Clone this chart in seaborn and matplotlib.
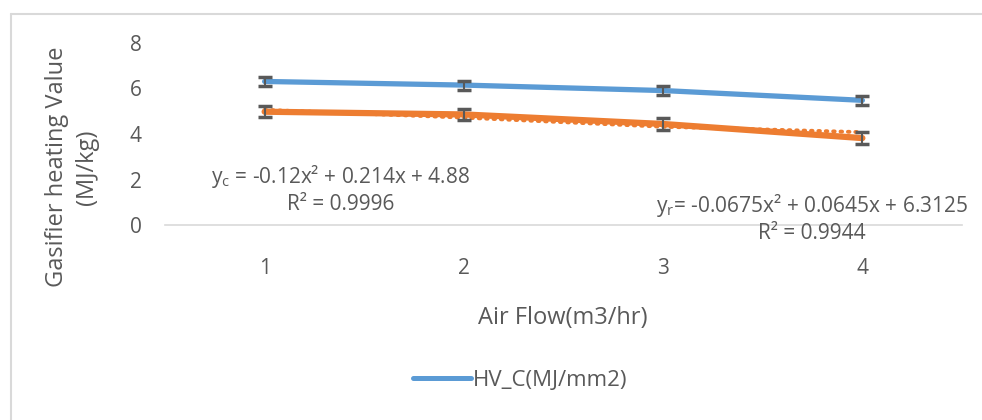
import pandas as pd
import seaborn as sns
import matplotlib.pyplot as plt
from matplotlib.lines import Line2D

# datos
air_flow = [1, 2, 3, 4]
hv_c = [6.31, 6.15, 5.91, 5.48]
hv_r = [4.98, 4.86, 4.44, 3.82]
trend_r = [5.06, 4.72, 4.32, 4.08]
err_c = [0.2, 0.2, 0.2, 0.2]
err_r = [0.25, 0.25, 0.25, 0.25]

eq_c = 'y$\\mathregular{_c}$ = -0.12x² + 0.214x + 4.88\nR² = 0.9996'
eq_r = 'y$\\mathregular{_r}$= -0.0675x² + 0.0645x + 6.3125\nR² = 0.9944'

df = pd.DataFrame({'AirFlow': air_flow, 'HV_C': hv_c, 'HV_R': hv_r, 'Trend': trend_r})

sns.set_style("white")
plt.rcParams['font.family'] = ['Open Sans', 'DejaVu Sans']
plt.rcParams['mathtext.fontset'] = 'custom'
plt.rcParams['mathtext.rm'] = 'Open Sans'

gray = '#595959'
blue = '#5B9BD5'
orange = '#ED7D31'

fig = plt.figure(figsize=(9.82, 4.2), dpi=100)
ax = fig.add_axes([165 / 982, 1 - 225 / 420, 797 / 982, 182 / 420])

# linea de tendencia punteada (polinomica)
sns.lineplot(data=df, x='AirFlow', y='Trend', color=orange, lw=2.8, ls=(0, (0.4, 1.5)),
             dash_capstyle='round', ax=ax)
sns.lineplot(data=df, x='AirFlow', y='HV_R', color=orange, lw=4.5, ax=ax,
             solid_capstyle='round')
sns.lineplot(data=df, x='AirFlow', y='HV_C', color=blue, lw=3.8, ax=ax,
             solid_capstyle='round')
ax.errorbar(air_flow, hv_c, yerr=err_c, fmt='none', ecolor=gray, elinewidth=1.5,
            capsize=5, capthick=2.5, zorder=5)
ax.errorbar(air_flow, hv_r, yerr=err_r, fmt='none', ecolor=gray, elinewidth=1.5,
            capsize=5, capthick=2.5, zorder=5)

ax.set_xlim(0.5, 4.5)
ax.set_ylim(0, 8)
ax.set_xticks(air_flow)
ax.set_yticks([0, 2, 4, 6, 8])
ax.tick_params(axis='both', length=0, labelsize=15, labelcolor=gray)
ax.tick_params(axis='x', pad=24)
ax.tick_params(axis='y', pad=17)
for s in ['top', 'right', 'left']:
    ax.spines[s].set_visible(False)
ax.spines['bottom'].set_color('#D9D9D9')
ax.spines['bottom'].set_linewidth(1.2)

ax.set_xlabel('Air Flow(m3/hr)', fontsize=17, color=gray)
ax.xaxis.set_label_coords((563 - 165) / 797, -(318 - 225) / 182)
ax.xaxis.label.set_va('center')
ax.set_ylabel('Gasifier heating Value\n(MJ/kg)', fontsize=17, color=gray, linespacing=1.3)
ax.yaxis.set_label_coords(-(165 - 72) / 797, (225 - 167) / 182)
ax.yaxis.label.set_va('center')

fig.text(341 / 982, 1 - 189 / 420, eq_c, ha='center', va='center', fontsize=15,
         color=gray, linespacing=1.2)
fig.text(812 / 982, 1 - 218 / 420, eq_r, ha='center', va='center', fontsize=15,
         color=gray, linespacing=1.2)

# leyenda
handle = Line2D([], [], color=blue, lw=3.6)
fig.legend([handle], ['HV_C(MJ/mm2)'], loc='center', bbox_to_anchor=(520 / 982, 1 - 380 / 420),
           frameon=False, fontsize=16, labelcolor=gray, handlelength=2.6, handletextpad=0.1)

# borde del area del grafico
fig.add_artist(Line2D([11 / 982, 11 / 982], [0, 1 - 14 / 420], color='#D9D9D9', lw=1.5))
fig.add_artist(Line2D([11 / 982, 1], [1 - 14 / 420, 1 - 14 / 420], color='#D9D9D9', lw=1.5))

plt.savefig('out.png', dpi=100)
